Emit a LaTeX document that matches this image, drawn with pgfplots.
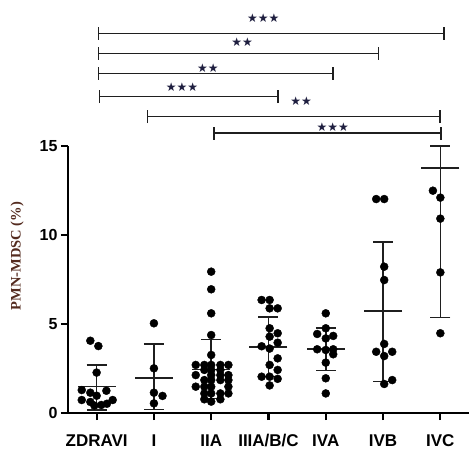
\documentclass[border=0pt]{standalone}
\usepackage{fontspec}
\setmainfont{Liberation Serif}
\setsansfont{Liberation Sans}
\newfontfamily\starfont{DejaVu Sans}
\usepackage{pgfplots}
\pgfplotsset{compat=1.18}
\usepackage{pgfplotstable}
\definecolor{labcol}{rgb}{0.33,0.17,0.12}
\definecolor{starcol}{rgb}{0.12,0.12,0.25}
\definecolor{barcol}{rgb}{0.12,0.12,0.12}

\pgfplotstableread{
x y
-0.11 4.06
0.03 3.76
0.00 2.27
-0.26 1.29
0.17 1.25
-0.11 1.14
0.00 0.97
-0.26 0.73
0.28 0.73
-0.11 0.62
-0.04 0.42
0.08 0.45
0.18 0.52
}\zdravi
\pgfplotstableread{
x y
1.00 5.04
1.00 2.51
1.00 1.14
1.15 0.96
1.00 0.54
}\gI
\pgfplotstableread{
x y
2.00 7.94
2.00 6.95
2.00 5.60
2.00 4.38
2.00 3.26
1.73 2.70
1.88 2.70
2.00 2.70
2.16 2.70
2.30 2.70
1.88 2.42
2.00 2.42
2.16 2.42
1.73 2.13
2.00 2.13
2.16 2.13
2.30 2.13
1.88 1.85
2.00 1.85
2.16 1.85
2.30 1.85
1.73 1.48
1.88 1.48
2.00 1.48
2.30 1.48
1.88 1.10
2.00 1.10
2.16 1.10
2.30 1.10
1.88 0.77
2.16 0.77
2.00 0.64
}\gIIA
\pgfplotstableread{
x y
2.88 6.35
3.02 6.35
3.02 5.88
3.16 5.88
3.02 4.76
3.16 4.48
3.02 4.29
3.16 3.95
2.88 3.75
3.02 3.62
3.16 3.07
3.02 2.70
3.16 2.42
2.88 2.04
3.02 2.04
3.16 1.92
3.02 1.55
}\gIIIA
\pgfplotstableread{
x y
4.00 5.60
4.00 4.76
3.85 4.44
4.00 4.19
4.13 4.33
3.85 3.58
4.00 3.54
4.13 3.58
4.13 3.30
4.00 2.83
4.00 1.95
4.00 1.10
}\gIVA
\pgfplotstableread{
x y
4.88 12.02
5.02 12.02
5.02 8.22
5.02 7.47
5.02 3.88
4.88 3.44
5.16 3.44
5.02 3.20
5.02 1.63
5.16 1.85
}\gIVB
\pgfplotstableread{
x y
5.87 12.49
6.00 12.10
6.00 10.92
6.00 7.90
6.00 4.48
}\gIVC
\pgfplotstableread{
x m ep em
0 1.48 1.20 1.30
1 1.98 1.88 1.78
2 2.45 1.69 1.63
3 3.70 1.69 1.66
4 3.58 1.21 1.20
5 5.73 3.89 3.97
6 13.75 1.25 8.39
}\stats

\newcommand{\brk}[4]{%
  \draw[line width=1.5pt, barcol] (axis cs:#1,#3) -- (axis cs:#2,#3);
  \draw[line width=1.5pt, barcol] ([yshift=-6.5pt]axis cs:#1,#3) -- ([yshift=6.5pt]axis cs:#1,#3);
  \draw[line width=1.5pt, barcol] ([yshift=-6.5pt]axis cs:#2,#3) -- ([yshift=6.5pt]axis cs:#2,#3);
}
\newcommand{\stars}[3]{%
  \node[font=\starfont\fontsize{12}{12}\selectfont, text=starcol, inner sep=0pt, anchor=center] at (axis cs:#1,#2) {#3};
}

\begin{document}
\begin{tikzpicture}
\path[use as bounding box] (0,0) rectangle (469pt,459pt);
\begin{axis}[
  at={(68pt,46pt)}, anchor=south west,
  scale only axis, width=401pt, height=267pt,
  xmin=-0.5, xmax=6.5, ymin=0, ymax=15,
  axis x line=bottom, axis y line=left,
  axis line style={line width=2.6pt, -, black},
  xtick={0,1,2,3,4,5,6},
  xticklabels={ZDRAVI,I,IIA,IIIA/B/C,IVA,IVB,IVC},
  ytick={0,5,10,15},
  tick align=outside, major tick length=7pt,
  tick style={line width=2.2pt, black},
  xticklabel style={font=\fontsize{17}{17}\selectfont\sffamily\bfseries, yshift=-11pt},
  yticklabel style={font=\fontsize{16}{16}\selectfont\sffamily\bfseries},
  /pgf/number format/assume math mode=true,
  ylabel={PMN-MDSC (\%)},
  ylabel style={font=\fontsize{14.5}{15}\selectfont\bfseries, text=labcol, at={(axis description cs:-0.127,0.588)}, anchor=center},
  clip=false,
]
\addplot[only marks, mark=-, mark size=19pt, mark options={line width=1.6pt}, color=barcol,
  error bars/.cd, y dir=both, y explicit,
  error mark=|,
  error bar style={line width=1.6pt, barcol},
  error mark options={line width=1.6pt, mark size=10pt, barcol}]
  table[x=x, y=m, y error plus=ep, y error minus=em] {\stats};
\addplot[only marks, mark=*, mark size=4pt, black] table {\zdravi};
\addplot[only marks, mark=*, mark size=4pt, black] table {\gI};
\addplot[only marks, mark=*, mark size=4pt, black] table {\gIIA};
\addplot[only marks, mark=*, mark size=4pt, black] table {\gIIIA};
\addplot[only marks, mark=*, mark size=4pt, black] table {\gIVA};
\addplot[only marks, mark=*, mark size=4pt, black] table {\gIVB};
\addplot[only marks, mark=*, mark size=4pt, black] table {\gIVC};
\brk{0.03}{6.06}{21.33}{}
\brk{0.03}{4.92}{20.21}{}
\brk{0.03}{4.13}{19.08}{}
\brk{0.05}{3.17}{17.77}{}
\brk{0.89}{5.99}{16.65}{}
\brk{2.05}{6.01}{15.72}{}
\stars{2.91}{22.17}{★★★}
\stars{2.54}{20.83}{★★}
\stars{1.94}{19.36}{★★}
\stars{1.49}{18.30}{★★★}
\stars{3.57}{17.53}{★★}
\stars{4.12}{16.03}{★★★}
\end{axis}
\end{tikzpicture}
\end{document}
